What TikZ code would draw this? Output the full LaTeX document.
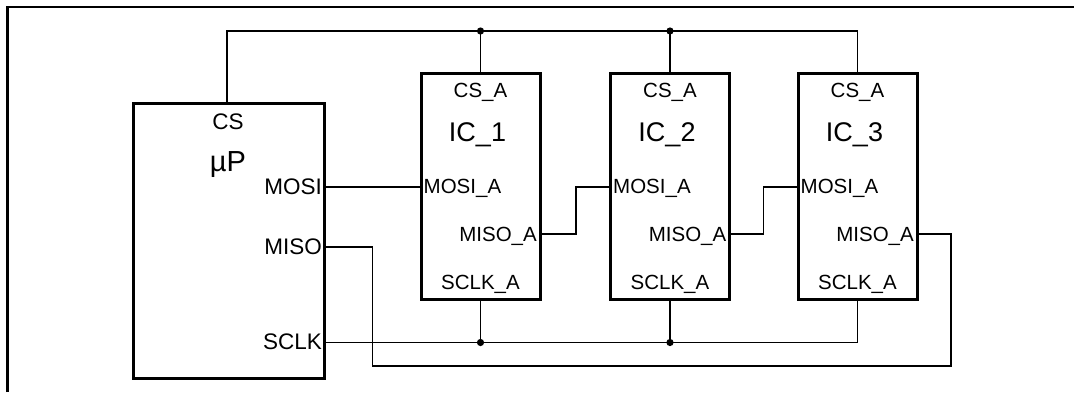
\documentclass[tikz,border=0pt]{standalone}
\usepackage{fontspec}
\setmainfont{Liberation Sans}
\begin{document}
\begin{tikzpicture}[x=1pt,y=-1pt,
  frame/.style={line width=2.6pt},
  box/.style={draw, line width=3pt, inner sep=0pt},
  icbox/.style={box, minimum width=119pt, minimum height=226pt},
  wire/.style={line width=1.6pt},
  dotjn/.style={fill=black},
  uplbl/.style={font=\fontsize{22.5}{26}\selectfont, inner sep=0pt},
  iclbl/.style={font=\fontsize{20.5}{24}\selectfont, inner sep=0pt},
  bigup/.style={font=\fontsize{29}{33}\selectfont, inner sep=0pt},
  bigic/.style={font=\fontsize{27}{31}\selectfont, inner sep=0pt}]
\useasboundingbox (0,0) rectangle (1074,392);
\clip (0,0) rectangle (1074,392);
% outer frame
\draw[frame] (7.5,392) -- (7.5,7) -- (1074,7);

% boxes
\node[box, minimum width=191pt, minimum height=275pt] (up) at (228.5,240.5) {};
\node[icbox] (ic1) at (480.5,186) {};
\node[icbox] (ic2) at (670,186) {};
\node[icbox] (ic3) at (857.5,186) {};

% microprocessor labels
\node[uplbl, anchor=base] (upcsl) at (228,129) {CS};
\node[bigup, anchor=base] (upname) at (228,171.5) {µP};
\node[uplbl, anchor=base east] (upmosil) at (322,194.3) {MOSI};
\node[uplbl, anchor=base east] (upmisol) at (322,254.3) {MISO};
\node[uplbl, anchor=base east] (upsclkl) at (322,349.3) {SCLK};

% IC labels
\foreach \n/\cx in {1/480.5, 2/670, 3/857.5}{
  \node[iclbl, anchor=base] (ic\n csl) at (\cx,97) {CS\_A};
  \node[bigic, anchor=base] (ic\n name) at (\cx-3,141) {IC\_\n};
  \node[iclbl, anchor=base west] (ic\n mosil) at (\cx-57,193.5) {MOSI\_A};
  \node[iclbl, anchor=base east] (ic\n misol) at (\cx+56.5,241) {MISO\_A};
  \node[iclbl, anchor=base] (ic\n sclkl) at (\cx,289.3) {SCLK\_A};
}

% pins and junctions
\coordinate (upcs) at (227,103);
\coordinate (upmosi) at (324,186.7);
\coordinate (upmiso) at (324,246.7);
\coordinate (upsclk) at (324,342.5);
\coordinate (ic1cs) at (480.5,73);
\coordinate (ic2cs) at (670,73);
\coordinate (ic3cs) at (857.5,73);
\coordinate (ic1sclk) at (480.5,299);
\coordinate (ic2sclk) at (670,299);
\coordinate (ic3sclk) at (857.5,299);
\coordinate (ic1mosi) at (421,186.7);
\coordinate (ic2mosi) at (610.5,186.7);
\coordinate (ic3mosi) at (798,186.7);
\coordinate (ic1miso) at (540,234);
\coordinate (ic2miso) at (729.5,234);
\coordinate (ic3miso) at (917,234);
\coordinate (topR) at (857.5,31);
\coordinate (t1) at (480.5,31);
\coordinate (t2) at (670,31);
\coordinate (s1) at (480.5,342.5);
\coordinate (s2) at (670,342.5);
\coordinate (j1) at (575.7,210);
\coordinate (j2) at (763.3,210);
\coordinate (c1) at (951,366);
\coordinate (c2) at (372.3,366);

% chip select bus
\draw[wire] (upcs) |- (topR) -- (ic3cs);
\draw[wire] (ic1cs) -- (t1);
\draw[wire] (ic2cs) -- (t2);
\fill[dotjn] (t1) circle (3.6pt);
\fill[dotjn] (t2) circle (3.6pt);

% data chain
\draw[wire] (upmosi) -- (ic1mosi);
\draw[wire] (ic1miso) -| (j1) |- (ic2mosi);
\draw[wire] (ic2miso) -| (j2) |- (ic3mosi);
\draw[wire] (ic3miso) -| (c1) -- (c2) |- (upmiso);

% clock bus
\draw[wire] (upsclk) -| (ic3sclk);
\draw[wire] (ic1sclk) -- (s1);
\draw[wire] (ic2sclk) -- (s2);
\fill[dotjn] (s1) circle (3.6pt);
\fill[dotjn] (s2) circle (3.6pt);
\end{tikzpicture}
\end{document}
